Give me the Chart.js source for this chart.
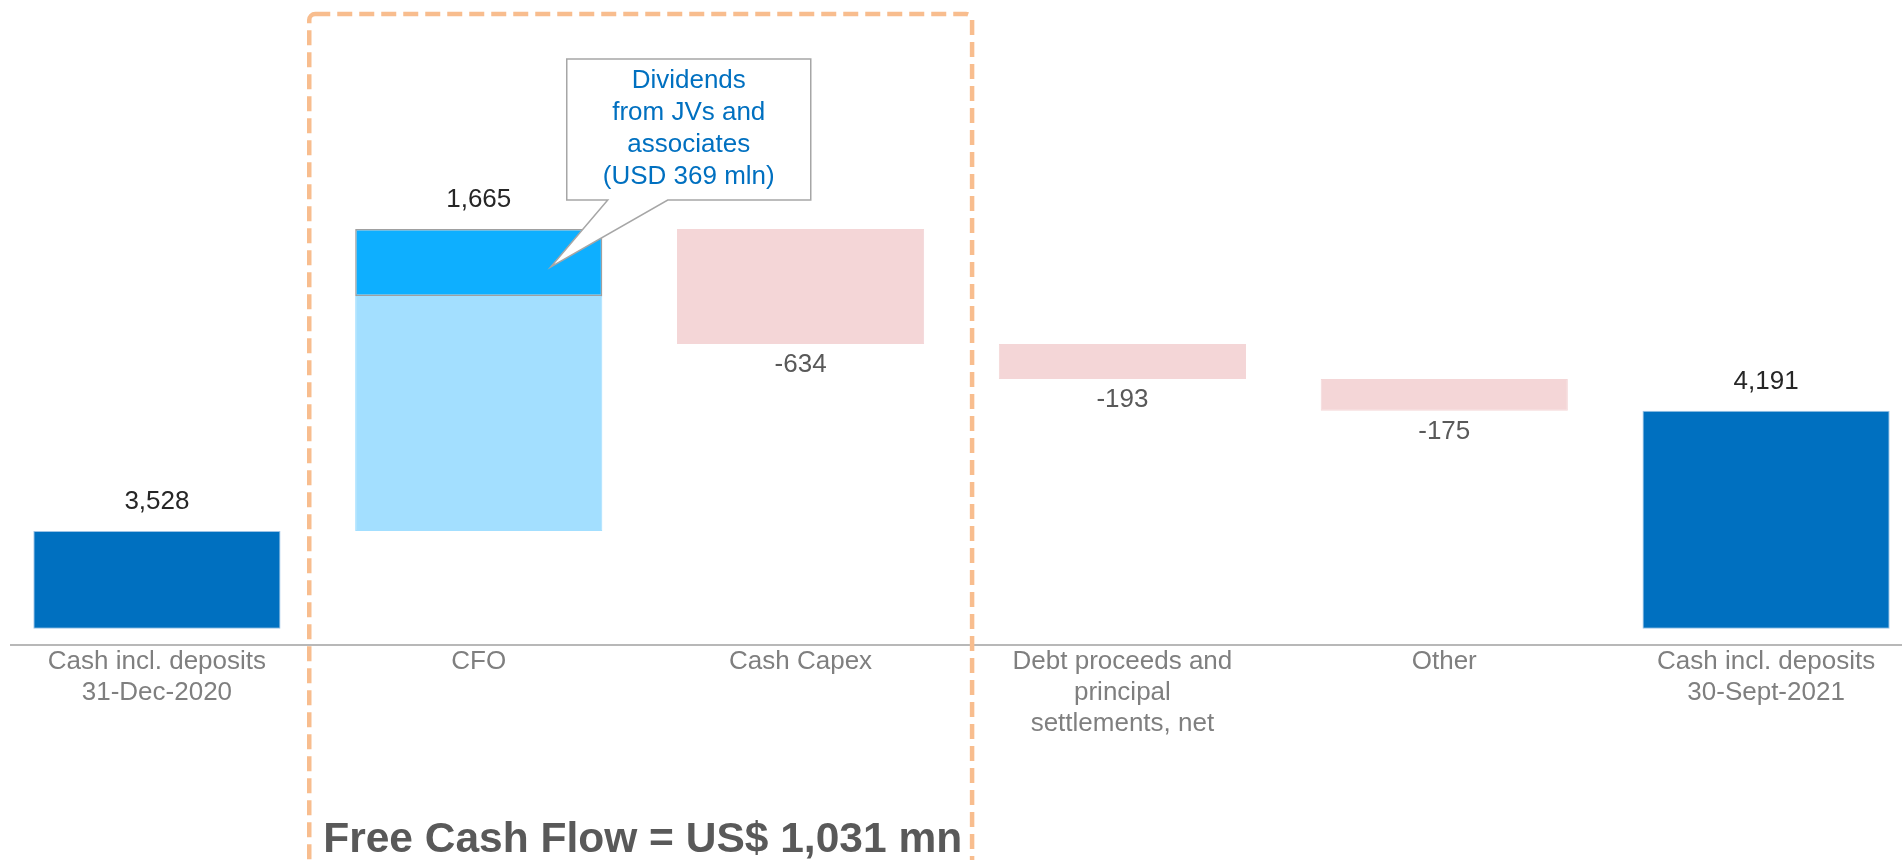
<!DOCTYPE html>
<html lang="en">
<head>
<meta charset="UTF-8">
<title>Cash flow bridge 9M 2021</title>
<script src="https://cdn.jsdelivr.net/npm/chart.js@4.4.0/dist/chart.umd.min.js"></script>
<style>
  html, body { margin: 0; padding: 0; background: #fff; overflow: hidden; }
  #chart-container { position: absolute; left: -4px; top: 0; width: 1931px; height: 860px; }
</style>
</head>
<body>
<div id="chart-container"><canvas id="chart"></canvas></div>
<script>
// bridge data, USD mn
const categories = [
    ['Cash incl. deposits', '31-Dec-2020'],
    'CFO',
    'Cash Capex',
    ['Debt proceeds and', 'principal', 'settlements, net'],
    'Other',
    ['Cash incl. deposits', '30-Sept-2021']
];
const openingCash = 3528;
const flowChanges = [1665, -634, -193, -175];   // CFO, capex, debt, other
const closingCash = 4191;
const jvDividends = 369;                         // included in CFO
const freeCashFlow = 1031;

const barColors = ['#0070c0', '#a3dfff', '#f4d6d7', '#f4d6d7', '#f4d6d7', '#0070c0'];
const FONT = '"Liberation Sans", Arial, sans-serif';

// axis is cut, totals start a bit above the axis line
const axisMin = 2900, axisMax = 6400, barFloor = 2990;

// build floating waterfall segments
const mainBars = [[barFloor, openingCash]];
const divBars = [null];
let running = openingCash;
flowChanges.forEach((d, i) => {
    const next = running + d;
    if (i === 0) {
        mainBars.push([running, next - jvDividends]);
        divBars.push([next - jvDividends, next]);
    } else {
        mainBars.push([running, next]);
        divBars.push(null);
    }
    running = next;
});
mainBars.push([barFloor, closingCash]);
divBars.push(null);
const labelValues = [openingCash, ...flowChanges, closingCash];

const fmt = v => v.toLocaleString('en-US');

const overlay = {
    id: 'bridgeOverlay',
    afterDatasetsDraw(chart) {
        const {ctx, scales: {x, y}} = chart;
        ctx.save();

        // axis line starts a little in from the left edge
        ctx.strokeStyle = '#a0a0a0';
        ctx.lineWidth = 1.5;
        ctx.beginPath();
        ctx.moveTo(14, y.bottom);
        ctx.lineTo(chart.width, y.bottom);
        ctx.stroke();

        // value labels
        ctx.font = '26px ' + FONT;
        ctx.textAlign = 'center';
        ctx.textBaseline = 'middle';
        labelValues.forEach((v, i) => {
            const segs = [mainBars[i], divBars[i]].filter(Boolean).flat();
            const cx = x.getPixelForValue(i);
            if (v >= 0) {
                ctx.fillStyle = '#262626';
                ctx.fillText(fmt(v), cx, y.getPixelForValue(Math.max(...segs)) - 29);
            } else {
                ctx.fillStyle = '#595959';
                ctx.fillText(fmt(v), cx, y.getPixelForValue(Math.min(...segs)) + 21);
            }
        });

        // callout for dividends from JVs
        const el = chart.getDatasetMeta(1).data[1];
        const L = el.x + 88, R = el.x + 332, T = el.y - 170, B = el.y - 29;
        const tipX = el.x + 72, tipY = el.y + 38;
        ctx.beginPath();
        ctx.moveTo(L, T);
        ctx.lineTo(R, T);
        ctx.lineTo(R, B);
        ctx.lineTo(el.x + 189, B);
        ctx.lineTo(tipX, tipY);
        ctx.lineTo(el.x + 129, B);
        ctx.lineTo(L, B);
        ctx.closePath();
        ctx.fillStyle = '#fff';
        ctx.fill();
        ctx.strokeStyle = '#a6a6a6';
        ctx.lineWidth = 1.5;
        ctx.stroke();
        ctx.fillStyle = '#0070c0';
        ['Dividends', 'from JVs and', 'associates', '(USD ' + jvDividends + ' mln)'].forEach((t, k) => {
            ctx.fillText(t, (L + R) / 2, T + 22 + k * 32);
        });

        // free cash flow frame around CFO and capex
        const fL = x.getPixelForValue(1) - 169.5, fR = x.getPixelForValue(2) + 171.5;
        ctx.beginPath();
        ctx.roundRect(fL, 14, fR - fL, 900, 6);
        ctx.setLineDash([15, 7]);
        ctx.lineWidth = 4.5;
        ctx.strokeStyle = '#f8bd8e';
        ctx.stroke();
        ctx.setLineDash([]);

        ctx.font = 'bold 42.5px ' + FONT;
        ctx.textBaseline = 'alphabetic';
        ctx.fillStyle = '#595959';
        ctx.fillText('Free Cash Flow = US$ ' + fmt(freeCashFlow) + ' mn', (fL + fR) / 2 + 2, 852);
        ctx.restore();
    }
};

const config = {
    type: 'bar',
    data: {
        labels: categories,
        datasets: [
            {
                data: mainBars,
                backgroundColor: barColors,
                borderColor: barColors.map(c => c === '#0070c0' ? '#9cc3e6' : c),
                borderWidth: 1,
                borderSkipped: false
            },
            {
                data: divBars,
                backgroundColor: '#0eafff',
                borderColor: '#a0a0a0',
                borderWidth: 1.5,
                borderSkipped: false
            }
        ]
    },
    options: {
        responsive: true,
        maintainAspectRatio: false,
        animation: false,
        events: [],
        layout: {padding: {top: 10, left: 0, right: 0, bottom: 0}},
        datasets: {bar: {categoryPercentage: 1, barPercentage: 0.768, grouped: false}},
        scales: {
            x: {
                stacked: true,
                grid: {display: false, drawTicks: false},
                border: {display: false},
                ticks: {
                    color: '#7f7f7f',
                    font: {family: FONT, size: 26, lineHeight: 1.2},
                    padding: 1,
                    maxRotation: 0,
                    autoSkip: false
                },
                afterFit: s => { s.height = 215; }
            },
            y: {
                display: false,
                min: axisMin,
                max: axisMax
            }
        },
        plugins: {
            legend: {display: false},
            tooltip: {enabled: false}
        }
    },
    plugins: [overlay]
};

const canvas = document.getElementById('chart');
let chart = new Chart(canvas, config);
</script>
</body>
</html>
